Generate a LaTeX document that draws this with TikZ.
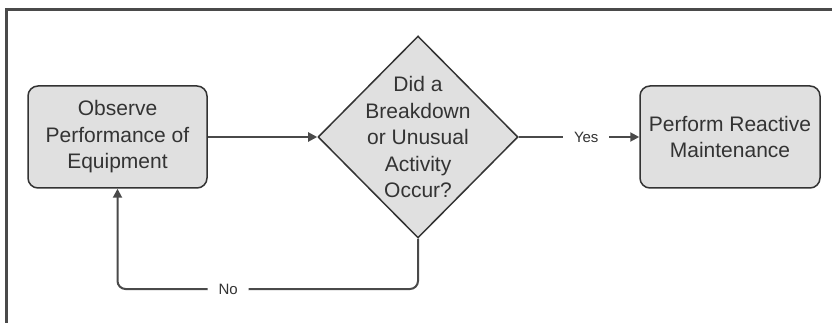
\documentclass[tikz,border=0pt]{standalone}
\usepackage{fontspec}
\setmainfont{Liberation Sans}
\usetikzlibrary{shapes.geometric,arrows.meta}
\definecolor{boxfill}{HTML}{E0E0E0}
\definecolor{ink}{HTML}{333333}
\definecolor{wire}{HTML}{4A4A4A}

\begin{document}
\begin{tikzpicture}[x=1pt,y=-1pt,
    stepbox/.style={rectangle,rounded corners=10pt,draw=ink,line width=1.5pt,fill=boxfill,text=ink,
        minimum width=179pt,minimum height=102pt,align=center,font=\fontsize{21}{26.5}\selectfont},
    decision/.style={diamond,draw=ink,line width=1.5pt,fill=boxfill,text=ink,inner sep=-30pt,
        minimum width=200pt,minimum height=202pt,align=center,font=\fontsize{21}{26.5}\selectfont},
    link/.style={draw=wire,line width=2pt,-{Triangle[length=9pt,width=9pt]}},
    tag/.style={fill=white,text=ink,inner xsep=11pt,inner ysep=2pt,font=\fontsize{15}{18}\selectfont}]

    \useasboundingbox (0,0) rectangle (832,323);
    % frame of the page
    \draw[line width=3pt,color=wire] (6,323) -- (6,10) -- (832,10);

    \node[stepbox] (observe) at (117.5,137) {Observe\\Performance of\\Equipment};
    \node[decision] (check) at (418,137) {Did a\\Breakdown\\or Unusual\\Activity\\Occur?};
    \node[stepbox,minimum width=180pt] (react) at (730,137) {Perform Reactive\\Maintenance};
    \coordinate (loop) at (418,289);

    \draw[link] (observe) -- (check);
    \draw[link] (check) -- node[tag,pos=0.56] {Yes} (react);
    \draw[link,rounded corners=8pt] (check.south) -- (loop) -| node[tag,pos=0.316] {No} (observe.south);

\end{tikzpicture}
\end{document}
